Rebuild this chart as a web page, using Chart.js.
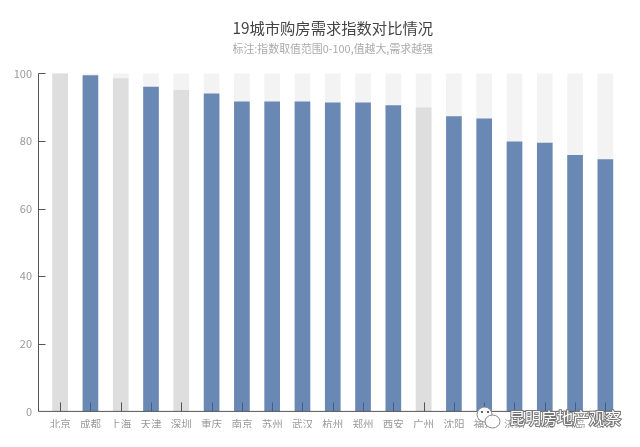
<!DOCTYPE html>
<html>
<head>
<meta charset="utf-8">
<script src="https://cdn.jsdelivr.net/npm/chart.js@4"></script>
<style>
  html, body { margin: 0; padding: 0; background: #fff; }
  #wrap { width: 640px; height: 447px; }
</style>
</head>
<body>
<div id="wrap"><canvas id="demandChart"></canvas></div>
<script>
const CJK = '"Noto Sans CJK SC", sans-serif';

const cities = ["北京", "成都", "上海", "天津", "深圳", "重庆", "南京", "苏州", "武汉", "杭州", "郑州", "西安", "广州", "沈阳", "福州", "济南", "宁波", "青岛", "长沙"];
const demandIndex = [100, 99.4, 98.5, 96, 95, 94, 91.6, 91.6, 91.6, 91.3, 91.3, 90.5, 89.8, 87.2, 86.6, 79.8, 79.4, 75.8, 74.5];
const greyCities = ["北京", "上海", "深圳", "广州"];
const fullScale = cities.map(() => 100);
const yTicks = [0, 20, 40, 60, 80, 100];

// the axis lines sit left of the plot area and the ticks point inward, so draw them here
const axisLines = {
  id: "axisLines",
  afterDatasetsDraw(chart) {
    const { ctx, scales: { x, y } } = chart;
    const left = 38.5;
    const base = y.getPixelForValue(0);
    ctx.save();
    ctx.strokeStyle = "#555";
    ctx.lineWidth = 1;
    ctx.beginPath();
    ctx.moveTo(left, y.getPixelForValue(100));
    ctx.lineTo(left, base);
    ctx.lineTo(x.right, base);
    yTicks.slice(1).forEach((t) => {
      const py = Math.round(y.getPixelForValue(t)) + 0.5;
      ctx.moveTo(left, py);
      ctx.lineTo(left + 7, py);
    });
    ctx.stroke();
    cities.forEach((c, i) => {
      const px = Math.round(x.getPixelForValue(i)) + 0.5;
      ctx.strokeStyle = greyCities.includes(c) ? "#555" : "#3f5f92";
      ctx.beginPath();
      ctx.moveTo(px, base);
      ctx.lineTo(px, base - 9);
      ctx.stroke();
    });
    ctx.restore();
  },
};

// account mark laid over the bottom right corner
const watermark = {
  id: "watermark",
  afterDraw(chart) {
    const { ctx } = chart;
    ctx.save();
    ctx.fillStyle = "rgba(255,255,255,0.95)";
    ctx.strokeStyle = "#888";
    ctx.lineWidth = 1;
    ctx.beginPath();
    ctx.ellipse(484.5, 414.5, 7.5, 7.5, 0, 0, Math.PI * 2);
    ctx.fill();
    ctx.stroke();
    ctx.beginPath();
    ctx.ellipse(492.5, 421.5, 7.5, 6.5, 0, 0, Math.PI * 2);
    ctx.fill();
    ctx.stroke();
    ctx.fillStyle = "#666";
    ctx.fillRect(481, 411, 2, 2);
    ctx.fillRect(487, 411, 2, 2);
    ctx.font = "16px " + CJK;
    ctx.textAlign = "left";
    ctx.textBaseline = "middle";
    ctx.lineWidth = 2;
    ctx.strokeStyle = "#777";
    ctx.strokeText("昆明房地产观察", 509, 418);
    ctx.fillStyle = "#fff";
    ctx.fillText("昆明房地产观察", 509, 418);
    ctx.restore();
  },
};

new Chart(document.getElementById("demandChart").getContext("2d"), {
  type: "bar",
  data: {
    labels: cities,
    datasets: [
      {
        data: demandIndex,
        backgroundColor: cities.map((c) => (greyCities.includes(c) ? "#dedede" : "#6a88b4")),
        barThickness: 15,
        grouped: false,
        order: 1,
      },
      {
        data: fullScale,
        backgroundColor: "#f3f3f4",
        barThickness: 15,
        grouped: false,
        order: 2,
      },
    ],
  },
  options: {
    responsive: true,
    maintainAspectRatio: false,
    animation: false,
    layout: { padding: { left: 7, right: 19.5, top: 0, bottom: 19 } },
    plugins: {
      legend: { display: false },
      tooltip: { enabled: false },
      title: {
        display: true,
        text: "19城市购房需求指数对比情况",
        color: "#444",
        fullSize: false,
        font: { family: CJK, size: 15.3, weight: "normal" },
        padding: { top: 19, bottom: 5 },
      },
      subtitle: {
        display: true,
        text: "标注:指数取值范围0-100,值越大,需求越强",
        color: "#aaa",
        fullSize: false,
        font: { family: CJK, size: 10.9 },
        padding: { top: 0, bottom: 18 },
      },
    },
    scales: {
      x: {
        grid: { display: false },
        border: { display: false },
        ticks: {
          color: "#999",
          font: { family: CJK, size: 10.5 },
          maxRotation: 0,
          autoSkip: false,
          padding: -2,
        },
      },
      y: {
        min: 0,
        max: 100,
        grid: { display: false },
        border: { display: false },
        afterBuildTicks(scale) {
          scale.ticks = yTicks.map((value) => ({ value }));
        },
        afterFit(scale) {
          scale.width = 38;
        },
        ticks: {
          color: "#999",
          font: { family: CJK, size: 11 },
          padding: 5,
        },
      },
    },
  },
  plugins: [axisLines, watermark],
});
</script>
</body>
</html>
